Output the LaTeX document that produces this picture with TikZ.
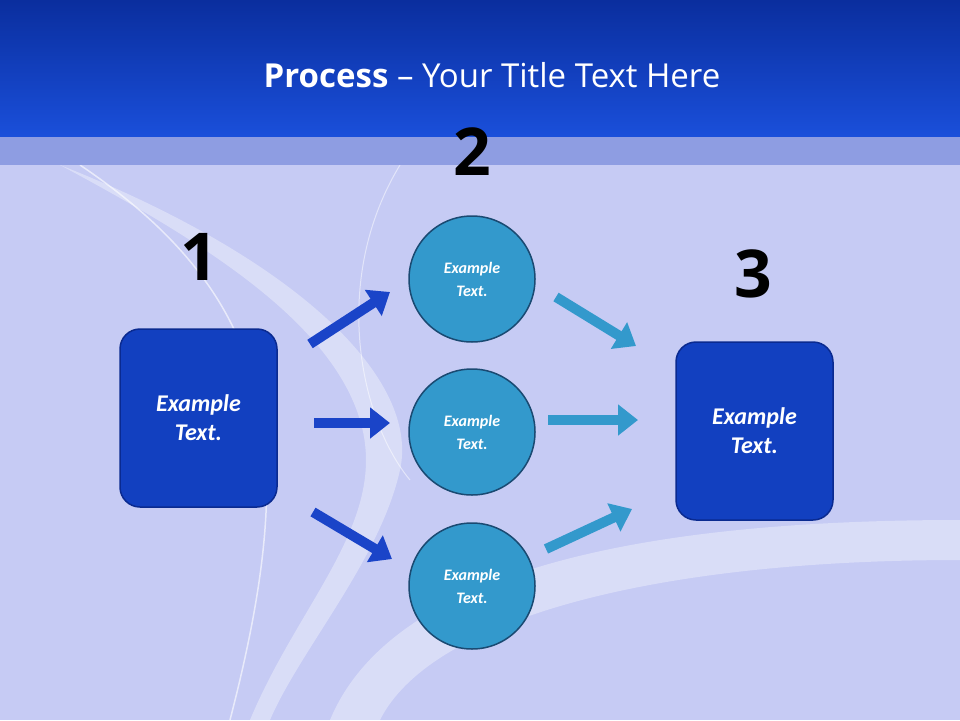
\documentclass[tikz,border=0pt]{standalone}
\usepackage{fontspec}
\setmainfont{Carlito}
\newfontfamily\titlefont{Open Sans}
\usetikzlibrary{arrows.meta}
\definecolor{bgc}{HTML}{C6CBF4}
\definecolor{topA}{HTML}{0A2E9E}
\definecolor{topB}{HTML}{1A4FDA}
\definecolor{strip}{HTML}{8E9DE2}
\definecolor{boxc}{HTML}{1240C0}
\definecolor{boxb}{HTML}{0A2A90}
\definecolor{circc}{HTML}{3399CC}
\definecolor{circb}{HTML}{1A4A72}
\definecolor{darr}{HTML}{1A44C8}
\definecolor{larr}{HTML}{3399CC}
\tikzset{
 sq/.style={draw=boxb,line width=1.5pt,fill=boxc,rounded corners=20pt,minimum width=157pt,minimum height=178pt,text=white,font=\bfseries\itshape\fontsize{24}{29}\selectfont,align=center},
 cir/.style={circle,draw=circb,line width=1.5pt,fill=circc,minimum size=126pt,text=white,font=\bfseries\itshape\fontsize{16}{23}\selectfont,align=center},
 num/.style={font=\titlefont\bfseries\fontsize{66}{66}\selectfont},
 barr/.style={line width=10pt,-{Triangle[length=20pt,width=30pt]}},
}
\begin{document}
\begin{tikzpicture}[x=1pt,y=-1pt]
\useasboundingbox (0,0) rectangle (960,720);
\fill[bgc] (0,0) rectangle (960,720);
\fill[white,opacity=0.35] (60,165) .. controls (300,260) and (420,380) .. (400,470) .. controls (380,560) and (300,650) .. (270,720) -- (330,720) .. controls (380,600) and (560,520) .. (960,520) -- (960,560) .. controls (650,560) and (430,620) .. (380,720) -- (250,720) .. controls (300,600) and (390,520) .. (360,420) .. controls (330,320) and (200,240) .. (60,165) -- cycle;
\draw[white,opacity=0.6,line width=1.5pt] (80,165) .. controls (280,300) and (300,450) .. (230,720);
\draw[white,opacity=0.5,line width=1pt] (400,165) .. controls (330,280) and (360,420) .. (410,480);
\fill[strip] (0,135) rectangle (960,165);
\shade[top color=topA,bottom color=topB] (0,0) rectangle (960,136);
\node[text=white,font=\titlefont\fontsize{33}{33}\selectfont] (title) at (492,75) {\textbf{Process} – Your Title Text Here};
\node[sq] (b1) at (198.5,418) {Example\\Text.};
\node[sq] (b3) at (754.5,431) {Example\\Text.};
\node[cir] (c1) at (472,279) {Example\\Text.};
\node[cir] (c2) at (472,432) {Example\\Text.};
\node[cir] (c3) at (472,586) {Example\\Text.};
\node[num] (n1) at (199,257) {1};
\node[num] (n2) at (472,152) {2};
\node[num] (n3) at (753,274) {3};
\coordinate (a1s) at (310,344); \coordinate (a1e) at (390,292);
\coordinate (a2s) at (314,423); \coordinate (a2e) at (390,423);
\coordinate (a3s) at (313,512); \coordinate (a3e) at (392,559);
\coordinate (a4s) at (556,297); \coordinate (a4e) at (636,346);
\coordinate (a5s) at (548,420); \coordinate (a5e) at (638,420);
\coordinate (a6s) at (546,549); \coordinate (a6e) at (632,509);
\draw[barr,darr] (a1s) -- (a1e);
\draw[barr,darr] (a2s) -- (a2e);
\draw[barr,darr] (a3s) -- (a3e);
\draw[barr,larr] (a4s) -- (a4e);
\draw[barr,larr] (a5s) -- (a5e);
\draw[barr,larr] (a6s) -- (a6e);
\end{tikzpicture}
\end{document}
